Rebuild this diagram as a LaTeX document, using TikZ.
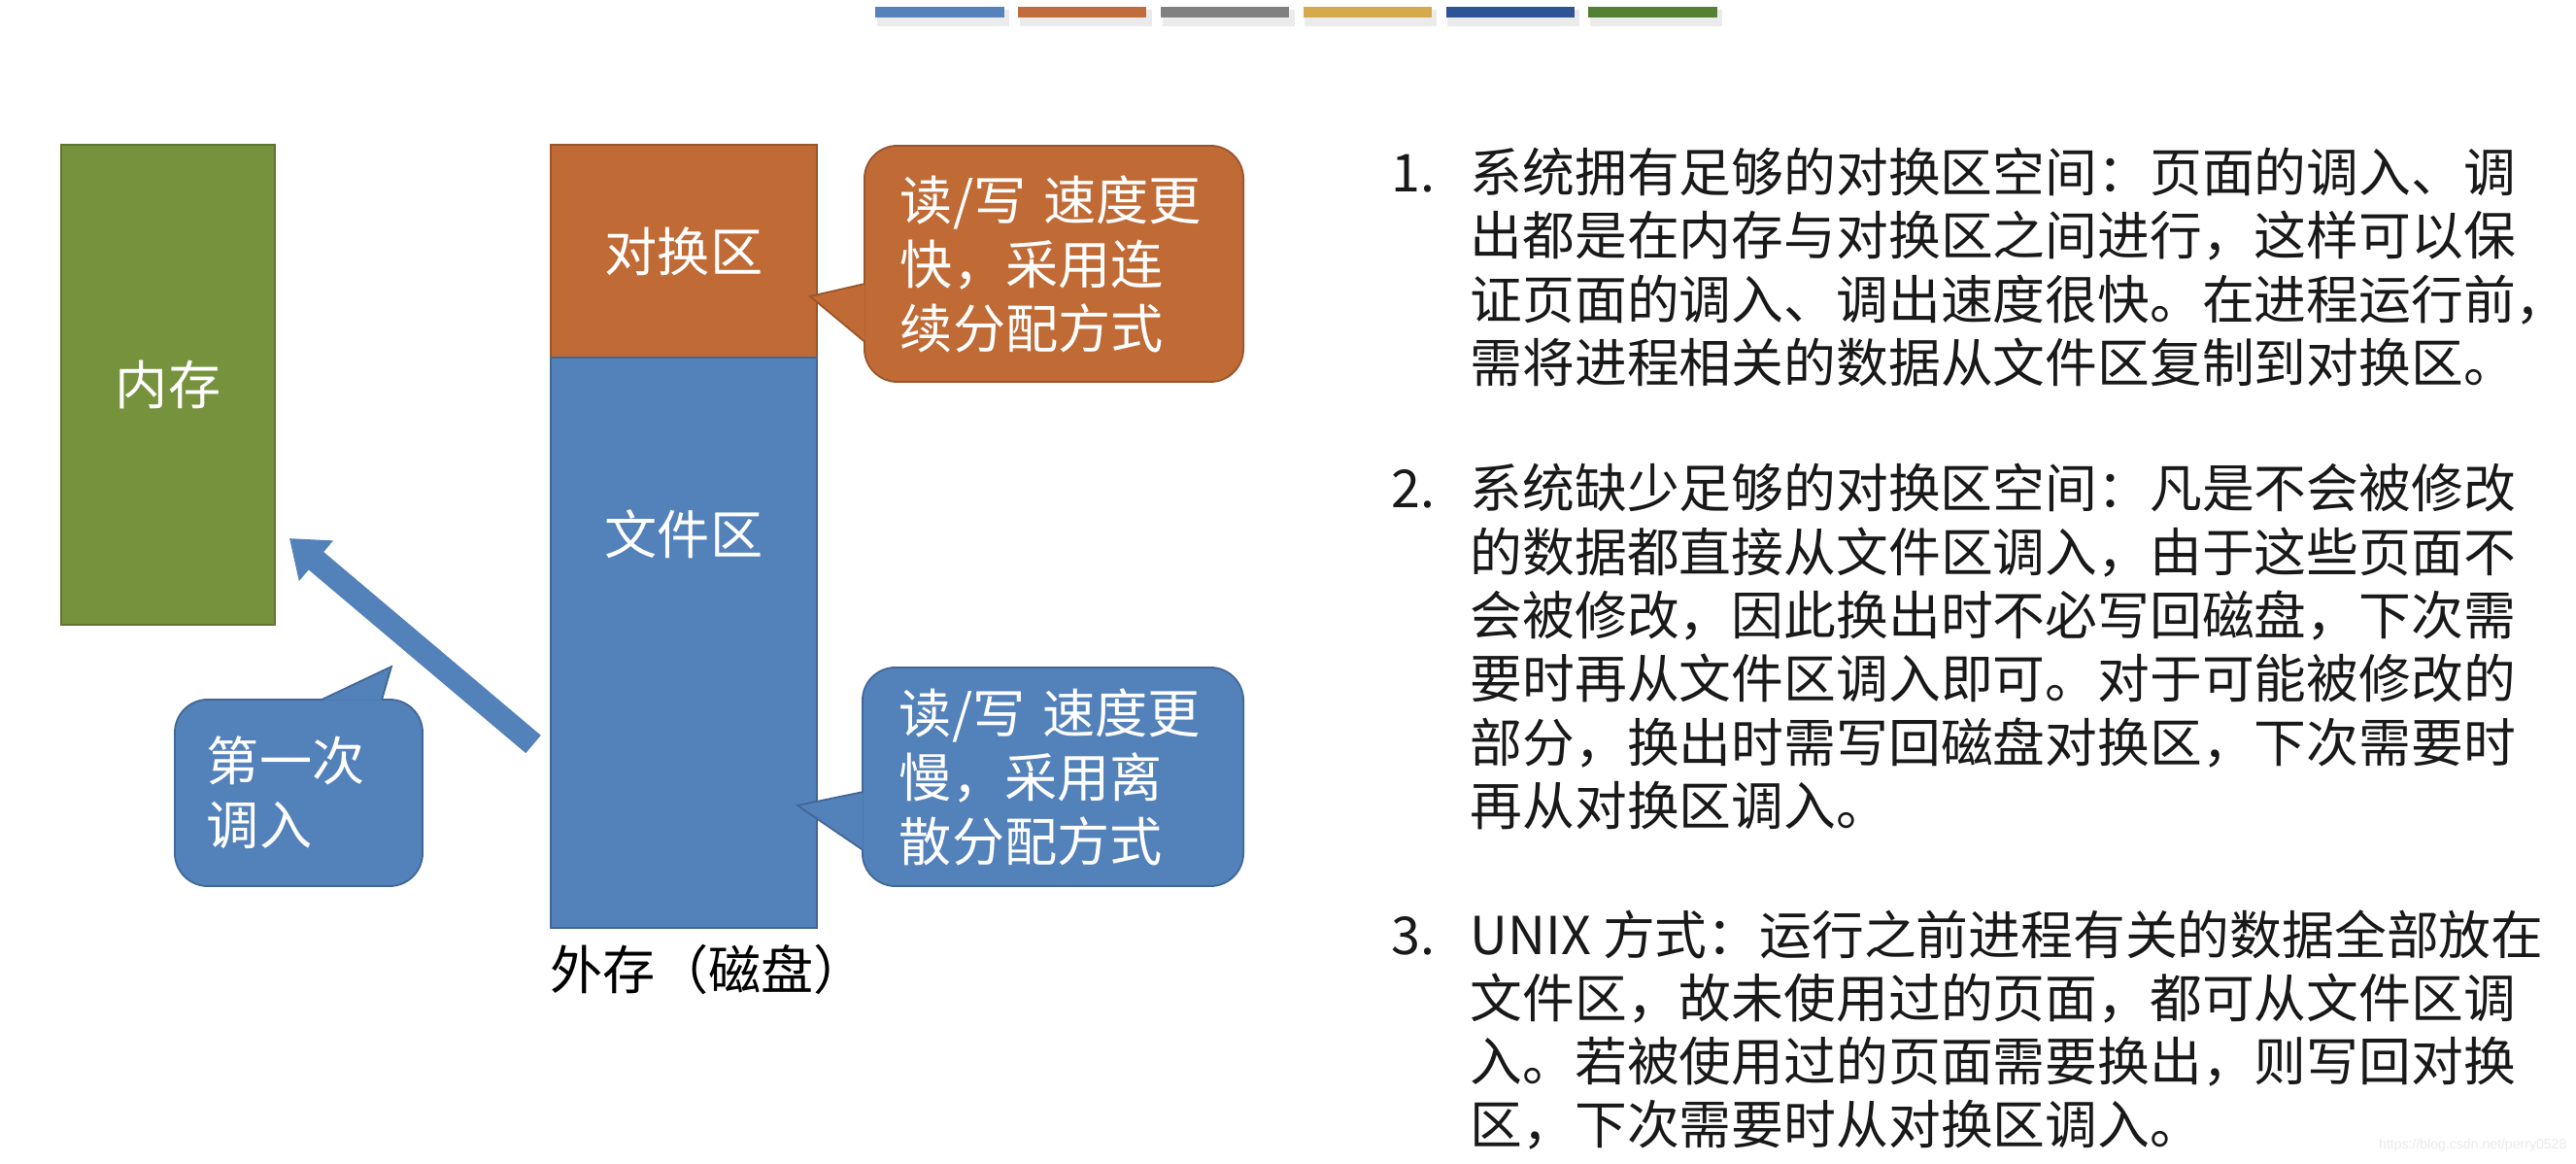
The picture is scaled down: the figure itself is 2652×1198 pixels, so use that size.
\documentclass[tikz,border=0pt]{standalone}
\usepackage{fontspec}
\setmainfont{Noto Sans CJK SC}
\newfontfamily\markfont{Liberation Sans}
\usetikzlibrary{positioning,arrows.meta,calc}
\definecolor{memgreen}{RGB}{118,146,61}
\definecolor{swaporange}{RGB}{192,106,54}
\definecolor{fileblue}{RGB}{83,129,186}
\definecolor{barblue}{RGB}{86,130,187}
\definecolor{barorange}{RGB}{192,108,60}
\definecolor{bargray}{RGB}{128,128,128}
\definecolor{bargold}{RGB}{212,170,76}
\definecolor{barnavy}{RGB}{47,84,150}
\definecolor{bargreen}{RGB}{84,128,52}
\newcommand{\boxfont}{\fontsize{15.4pt}{18.8pt}\selectfont}
\newcommand{\listfont}{\fontsize{15.3pt}{18.57pt}\selectfont}
\newcommand{\listno}[1]{\makebox[0.81cm][l]{#1}}
\newcommand{\listgap}{\hspace*{0.81cm}}
\tikzset{
  block/.style={draw=#1!80!black, fill=#1, line width=0.5pt, text=white, font=\boxfont},
  bubble/.style={draw=#1!80!black, fill=#1, line width=0.5pt, rounded corners=0.34cm, text=white, align=left, font=\boxfont},
  pointer/.style={fill=#1, draw=#1!80!black, line width=0.5pt},
  topbar/.style={fill=#1, minimum width=1.32cm, minimum height=0.115cm},
  loadarrow/.style={-{Triangle[width=0.52cm,length=0.36cm]}, line width=0.24cm, fileblue},
  listtext/.style={anchor=west, align=left, font=\listfont, text=black!90}
}
\begin{document}
\begin{tikzpicture}[x=0.01cm, y=-0.01cm, every node/.style={inner sep=0pt}]
\useasboundingbox[fill=white] (0,0) rectangle (2652,1198);

\foreach \c [count=\i from 0] in {barblue,barorange,bargray,bargold,barnavy,bargreen}{
  \fill[black!8] ({903+146.8*\i},10) rectangle ({1039+146.8*\i},27);
  \node[topbar=\c] (bar\i) at ({967.5+146.8*\i},12.5) {};
}

\node[block=memgreen, minimum width=2.20cm, minimum height=4.94cm] (mem) at (173,396) {内存};
\node[block=swaporange, minimum width=2.74cm, minimum height=2.19cm] (swap) at (704,258.5) {对换区};
\node[block=fileblue, minimum width=2.74cm, minimum height=5.87cm] (file) at (704,661.5) {};
\node[text=white, font=\boxfont] (filetext) at (704,550) {文件区};
\node[anchor=west, font=\boxfont] (disk) at (566,998) {外存（磁盘）};

\node[bubble=swaporange, minimum width=3.90cm, minimum height=2.43cm, text width=3.16cm] (fastnote) at (1085,271.5) {读/写 速度更\\快，采用连\\续分配方式};
\node[bubble=fileblue, minimum width=3.92cm, minimum height=2.25cm, text width=3.16cm] (slownote) at (1084,799.5) {读/写 速度更\\慢，采用离\\散分配方式};
\node[bubble=fileblue, minimum width=2.55cm, minimum height=1.92cm, text width=1.89cm] (firstnote) at (307.5,816) {第一次\\调入};

\coordinate (fasttip) at ($(swap.east)+(-8,46.5)$);
\coordinate (slowtip) at ($(file.east)+(-21,167.5)$);
\coordinate (firsttip) at ($(firstnote.north)+(95.5,-33)$);
\path[pointer=swaporange] ($(fastnote.west)+(1.5,20.5)$) -- (fasttip) -- ($(fastnote.west)+(1.5,80.5)$);
\path[pointer=fileblue] ($(slownote.west)+(1.5,15.5)$) -- (slowtip) -- ($(slownote.west)+(1.5,75.5)$);
\path[pointer=fileblue] ($(firstnote.north)+(22.5,1.5)$) -- (firsttip) -- ($(firstnote.north)+(85.5,1.5)$);

\coordinate (loadtail) at ($(file.west)+(-17,104.5)$);
\coordinate (loadtip) at ($(mem.south east)+(14,-90)$);
\draw[loadarrow] (loadtail) -- (loadtip);

\node[listtext] (item1) at (1432,275) {\listno{1.}系统拥有足够的对换区空间：页面的调入、调\\%
\listgap 出都是在内存与对换区之间进行，这样可以保\\%
\listgap 证页面的调入、调出速度很快。在进程运行前，\\%
\listgap 需将进程相关的数据从文件区复制到对换区。};
\node[listtext] (item2) at (1432,665.5) {\listno{2.}系统缺少足够的对换区空间：凡是不会被修改\\%
\listgap 的数据都直接从文件区调入，由于这些页面不\\%
\listgap 会被修改，因此换出时不必写回磁盘，下次需\\%
\listgap 要时再从文件区调入即可。对于可能被修改的\\%
\listgap 部分，换出时需写回磁盘对换区，下次需要时\\%
\listgap 再从对换区调入。};
\node[listtext] (item3) at (1432,1060) {\listno{3.}UNIX 方式：运行之前进程有关的数据全部放在\\%
\listgap 文件区，故未使用过的页面，都可从文件区调\\%
\listgap 入。若被使用过的页面需要换出，则写回对换\\%
\listgap 区，下次需要时从对换区调入。};

\node[anchor=east, font=\markfont\fontsize{4pt}{5pt}\selectfont, text=black!8] (mark) at (2643,1179) {https://blog.csdn.net/perry0528};
\end{tikzpicture}
\end{document}
